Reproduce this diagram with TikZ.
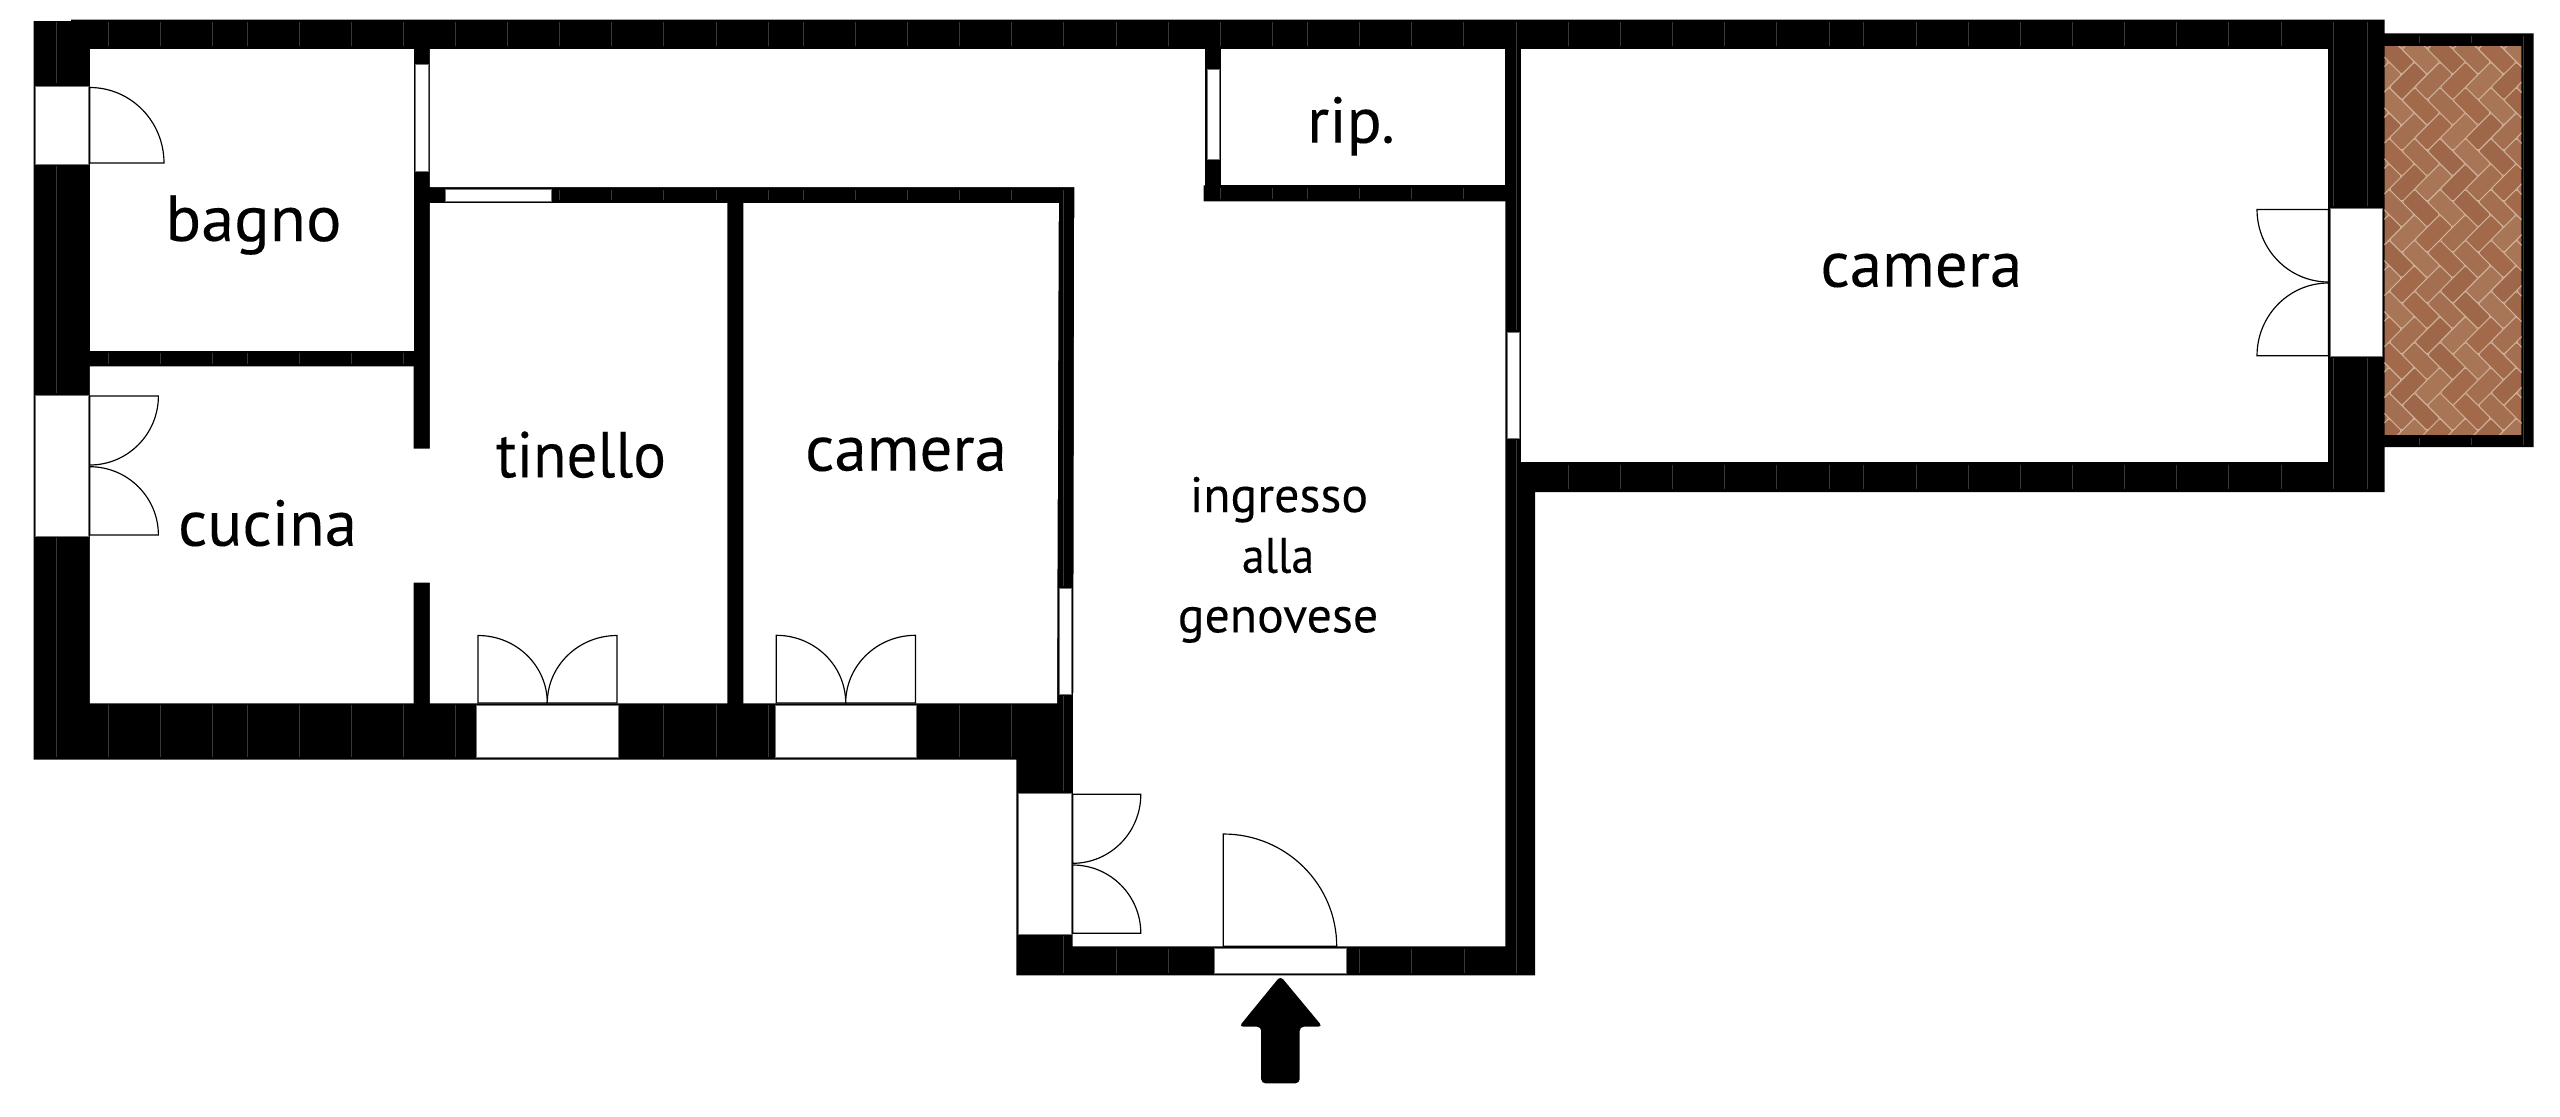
\documentclass[tikz,border=0pt]{standalone}
\usepackage{fontspec}
\setmainfont{PT Sans}[FakeBold=0.12]
\usetikzlibrary{calc}
\tikzset{
  x=0.03cm,y=-0.03cm,
  wall/.style={fill=black,draw=none},
  room/.style={fill=white,draw=none},
  win/.style={fill=white,draw=black!55,line width=0.5pt},
  leaf/.style={fill=white,draw=black,line width=1pt,line join=miter},
  tick/.style={draw=black!78,line width=0.55pt},
  bigroom/.style={font=\fontsize{55.5}{60}\selectfont,inner sep=0,anchor=base,text=black},
  smallroom/.style={font=\fontsize{42.5}{46}\selectfont,inner sep=0,anchor=base,text=black},
  narrowed/.style={xscale=#1,transform shape},
  brick0/.style={fill=brickA},brick1/.style={fill=brickB},brick2/.style={fill=brickC},brick3/.style={fill=brickD},
  mortar/.style={draw=brickM,line width=0.8pt,rounded corners=1.5pt},
}
\definecolor{brickA}{HTML}{A46E50}
\definecolor{brickB}{HTML}{9E6749}
\definecolor{brickC}{HTML}{A87557}
\definecolor{brickD}{HTML}{A2694A}
\definecolor{brickM}{HTML}{CFB29B}
\newcommand{\doorleaf}[6]{%
  \coordinate (h) at (#1,#2);\coordinate (l) at (#3,#4);\coordinate (c) at (#5,#6);
  \draw[leaf] (l) -- (h) -- (c) .. controls ($(c)+0.5523*(l)-0.5523*(h)$) and ($(l)+0.5523*(c)-0.5523*(h)$) .. (l) -- cycle;}
\begin{document}
\begin{tikzpicture}
\useasboundingbox (0,0) rectangle (2560,1116);
% outer masonry
\fill[wall] (33.5,21) -- (71,21) -- (71,19.5) -- (2384.7,19.5) -- (2384.7,33.3) -- (2533.7,33.3) -- (2533.7,447) -- (2384.7,447) -- (2384.7,492) -- (1535,492) -- (1535,975.3) -- (1016.3,975.3) -- (1016.3,759.5) -- (33.5,759.5) -- cycle;
% rooms
\fill[room] (89.8,49) rectangle (413.5,350.7);
\fill[room] (89.8,366.3) -- (413.5,366.3) -- (413.5,448.7) -- (429.8,448.7) -- (429.8,203) -- (727.3,203) -- (727.3,703.3) -- (429.8,703.3) -- (429.8,582.7) -- (413.5,582.7) -- (413.5,703.3) -- (89.8,703.3) -- cycle;
\fill[room] (743.3,203) -- (1058.8,203) -- (1057,703.3) -- (743.3,703.3) -- cycle;
\fill[room] (429.8,49) -- (1204.9,49) -- (1204.9,185.3) -- (1203.7,185.3) -- (1203.7,201.3) -- (1505.3,201.3) -- (1505.3,946.3) -- (1072.7,946.3) -- (1074.3,187) -- (429.8,187) -- cycle;
\fill[room] (1220.8,49) rectangle (1505.3,185.3);
\fill[room] (1521.2,49) rectangle (2328.3,462.3);
% balcony floor
\begin{scope}
\clip (2384.7,46.3) rectangle (2521.3,434.7);
\fill[brickA] (2384.7,46.3) rectangle (2521.3,434.7);
\begin{scope}[shift={(2440,240)},rotate=45]
\foreach \a in {-14,...,14}{\foreach \b in {-7,...,7}{
  \pgfmathtruncatemacro{\cc}{mod(abs(7*\a+13*\b),4)}
  \pgfmathtruncatemacro{\cd}{mod(abs(11*\a+5*\b+1),4)}
  \pgfmathsetmacro{\px}{18*(\a+2*\b)}
  \pgfmathsetmacro{\py}{18*(\a-2*\b)}
  \path[mortar,brick\cc] (\px,\py) rectangle ++(36,18);
  \path[mortar,brick\cd] (\px+36,\py-18) rectangle ++(18,36);
}}
\end{scope}
\end{scope}
% wall joints
\foreach \x in {108.6,160.4,212.2,247,299,351,403,455.5,507.8,559.6,611.8,663.7,716.3,768.6,803.3,855.5,907.8,959.6,1011.8,1063.7,1116,1168,1220.4,1272.2,1307.3,1359.3,1411.3,1463.5,1568.6,1620,1672.2,1724.5,1776.7,1829,1863.7,1916,1968,2020.4,2072.2,2124.3,2176.3,2228.3,2281}
  \draw[tick] (\x,22) -- (\x,46);
\foreach \x in {559.6,611.8,663.7,716.3,768.6,803.3,855.5,907.8,959.6,1011.8}
  \draw[tick] (\x,190) -- (\x,200);
\foreach \x in {1220.4,1272.2,1307.3,1359.3,1411.3,1463.5}
  \draw[tick] (\x,188) -- (\x,199);
\foreach \x in {108.6,160.4,212.2,247,299,351,403}
  \draw[tick] (\x,353) -- (\x,364);
\foreach \x in {108.6,160.4,212.2,247,299,351,403,455.5,663.7,716.3,768.6,959.6,1011.8}
  \draw[tick] (\x,705) -- (\x,757);
\foreach \x in {1116.3,1168.6,1359.6,1411.8,1464}
  \draw[tick] (\x,949) -- (\x,972.7);
\foreach \x in {1568.6,1620,1672.2,1724.5,1776.7,1829,1863.7,1916,1968,2020.4,2072.2,2124.3,2176.3,2228.3,2281}
  \draw[tick] (\x,465) -- (\x,489.3);
\foreach \x in {2419.7,2471.7}{
  \draw[tick] (\x,36) -- (\x,43);
  \draw[tick] (\x,438) -- (\x,445);}
\draw[tick] (56.3,22) -- (56.3,83) (56.3,166) -- (56.3,393) (56.3,538) -- (56.3,757);
\draw[tick] (1063.7,190) -- (1063.7,586) (1063.7,696) -- (1063.7,791) (1063.7,936) -- (1063.7,972.7);
\draw[tick] (1516.3,22) -- (1516.3,330) (1516.3,440) -- (1516.3,972.7);
\draw[tick] (2333,22) -- (2333,206) (2333,358) -- (2333,489.3);
\draw[tick] (2367.3,22) -- (2367.3,206) (2367.3,358) -- (2367.3,489.3);
\draw[tick] (2523.7,36) -- (2523.7,445);
% windows and door openings
\draw[win] (35.5,86) rectangle (88.6,164);
\draw[win] (35.5,395) rectangle (88.6,536.7);
\draw[win] (415.5,64) rectangle (427.8,171);
\draw[win] (444.9,189) rectangle (551,201.5);
\draw[win] (476.7,705.5) rectangle (618.4,757.5);
\draw[win] (775,705.5) rectangle (916.7,757.5);
\draw[win] (1059.6,588) rectangle (1071.4,694);
\draw[win] (1207,69.7) rectangle (1219,159.7);
\draw[win] (1507.3,332) rectangle (1519.6,438.3);
\draw[win] (1018.4,793.3) rectangle (1071,934.3);
\draw[win] (1213.9,948.3) rectangle (1346,973.3);
\draw[win] (2330.3,208.3) rectangle (2382.7,356.3);
% door leaves
\doorleaf{89.8}{163}{89.8}{87.5}{164}{163}
\doorleaf{89.8}{396}{89.8}{465}{158.4}{396}
\doorleaf{89.8}{535}{89.8}{466.7}{158.4}{535}
\doorleaf{478}{703}{478}{635.5}{547.3}{703}
\doorleaf{617}{703}{617}{635.5}{547.3}{703}
\doorleaf{776.3}{703}{776.3}{635.3}{845.7}{703}
\doorleaf{915.5}{703}{915.5}{635.3}{845.7}{703}
\doorleaf{1072.7}{794.3}{1072.7}{863.3}{1140.8}{794.3}
\doorleaf{1072.7}{933.3}{1072.7}{865}{1140.8}{933.3}
\doorleaf{1223.3}{946.3}{1223.3}{834}{1336.7}{946.3}
\doorleaf{2328.5}{209.5}{2328.5}{282}{2257}{209.5}
\doorleaf{2328.5}{355.7}{2328.5}{283}{2257}{355.7}
% entrance arrow
\fill[black,rounded corners=3.5pt] (1280.4,976) -- (1322.5,1026.7) -- (1299.6,1026.7) -- (1299.6,1083.3) -- (1261.2,1083.3) -- (1261.2,1026.7) -- (1239,1026.7) -- cycle;
% labels
\node[bigroom,narrowed=1.02] (bagno) at (253.5,241) {bagno};
\node[bigroom] (cucina) at (267.5,545.7) {cucina};
\node[bigroom,narrowed=0.94] (tinello) at (581,477.3) {tinello};
\node[bigroom] (camera1) at (906,470.7) {camera};
\node[bigroom] (camera2) at (1921.3,286.7) {camera};
\node[bigroom] (rip) at (1351,142.7) {rip.};
\node[smallroom] (ingresso) at (1279,512) {ingresso};
\node[smallroom,narrowed=0.92] (alla) at (1278,572.7) {alla};
\node[smallroom] (genovese) at (1278,632.3) {genovese};
\end{tikzpicture}
\end{document}
